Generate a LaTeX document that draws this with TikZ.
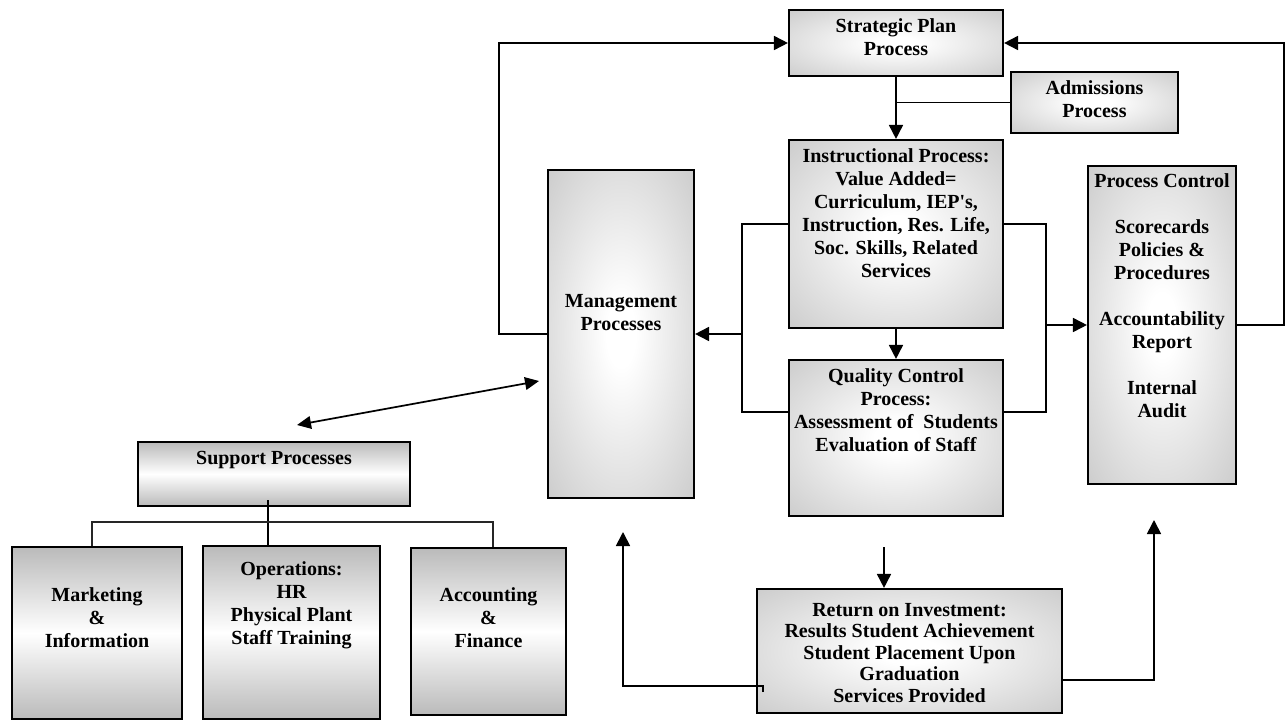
\documentclass[tikz,border=0pt]{standalone}
\usepackage{fontspec}
\setmainfont{Liberation Serif}
\usetikzlibrary{arrows.meta,fit,calc}
\pgfdeclareradialshading{glow}{\pgfpoint{0bp}{0bp}}{color(0bp)=(white); color(5bp)=(white); color(42bp)=(black!24); color(50bp)=(black!26); color(75bp)=(black!26)}
\begin{document}
\begin{tikzpicture}[x=0.75pt,y=-0.75pt,
  font=\fontsize{15pt}{17.25pt}\selectfont\bfseries,
  box/.style={draw=black, line width=1.6pt, inner sep=0pt, shade, shading=glow},
  sbox/.style={draw=black, line width=1.6pt, inner sep=0pt, top color=black!27, bottom color=black!27, middle color=white},
  txt/.style={align=center, inner sep=0pt, anchor=north},
  ln/.style={line width=1.3pt},
  barln/.style={line width=1pt, black!85},
  arr/.style={ln, -{Triangle[length=10.5pt,width=10.5pt]}},
  darr/.style={ln, {Triangle[length=10.5pt,width=9.5pt]}-{Triangle[length=10.5pt,width=9.5pt]}}]
\path[fill=white] (0,0) rectangle (1286,721);
\useasboundingbox (0,0) rectangle (1286,721);

% main boxes
\node[box, fit={(789,10)(1003,76)}] (sp) {};
\node[txt] (spt) at (896,18) {Strategic Plan\\Process};
\node[box, fit={(1011,72)(1178,133)}] (adm) {};
\node[txt] (admt) at (1094.5,80) {Admissions\\Process};
\node[box, fit={(789,140)(1003,328)}] (ins) {};
\node[txt] (inst) at (896,148) {Instructional Process:\\Value Added=\\Curriculum, IEP\textquotesingle s,\\Instruction, Res. Life,\\Soc. Skills, Related\\Services};
\node[box, fit={(548,170)(694,498)}] (mgt) {};
\node[txt] (mgtt) at (621,294) {Management\\Processes};
\node[box, fit={(789,360)(1003,516)}] (qc) {};
\node[txt] (qct) at (896,368) {Quality Control\\Process:\\Assessment of~ Students\\Evaluation of Staff};
\node[box, fit={(1088,166)(1236,484)}] (pc) {};
\node[txt] (pct) at (1162,173) {Process Control\\[17.25pt]Scorecards\\Policies \&\\Procedures\\[17.25pt]Accountability\\Report\\[17.25pt]Internal\\Audit};
\node[box, fit={(757,589)(1062,713)}] (roi) {};
\node[txt, font=\fontsize{15pt}{16.1pt}\selectfont\bfseries] (roit) at (909.5,603) {Return on Investment:\\Results Student Achievement\\Student Placement Upon\\Graduation\\Services Provided};

% support group
\node[sbox, fit={(138,442)(410,506)}] (sup) {};
\node[txt] (supt) at (274,451) {Support Processes};
\node[sbox, fit={(12,547)(182,719)}] (mkt) {};
\node[txt] (mktt) at (97,587) {Marketing\\\&\\Information};
\node[sbox, fit={(203,546)(380,719)}] (ops) {};
\node[txt] (opst) at (291.5,561) {Operations:\\HR\\Physical Plant\\Staff Training};
\node[sbox, fit={(411,548)(566,715)}] (acc) {};
\node[txt] (acct) at (488.5,587) {Accounting\\\&\\Finance};

% helper coordinates
\coordinate (lx) at (499,0);
\coordinate (rx) at (1284,0);
\coordinate (yA) at (0,224);
\coordinate (yB) at (0,412);
\coordinate (bl) at (742,0);
\coordinate (br) at (1046,0);
\coordinate (da1) at (297,425);
\coordinate (da2) at (539,381);
\coordinate (st) at (268,500);
\coordinate (b1) at (92,522);
\coordinate (b2) at (493,522);
\coordinate (ri) at (884,547);
\coordinate (lt) at (763,692);
\coordinate (rl) at (763,686);
\coordinate (ua) at (623,532);
\coordinate (y680) at (0,680);
\coordinate (ua2) at (1154,520);

% loops to strategic plan
\draw[arr] (mgt.west) -- (mgt.west -| lx) |- (sp.west);
\draw[arr] (pc.east) -- (pc.east -| rx) |- (sp.east);
% strategic -> instructional, admissions branch
\draw[arr] (sp.south) -- (ins.north);
\draw[ln] (adm.west) -- (adm.west -| sp.south);
% instructional -> quality control
\draw[arr] (ins.south) -- (qc.north);
% left bracket
\draw[ln] (ins.west |- yA) -- (bl |- yA) -- (bl |- yB) -- (qc.west |- yB);
\draw[arr] (bl |- mgt.east) -- (mgt.east);
% right bracket
\draw[ln] (ins.east |- yA) -- (br |- yA) -- (br |- yB) -- (qc.east |- yB);
\draw[arr] (br |- pc.west) -- (pc.west);
% support <-> management
\draw[darr] (da1) -- (da2);
% support tree
\draw[ln] (st) -- (st |- ops.north);
\draw[barln] (b1 |- mkt.north) -- (b1) -- (b2) -- (b2 |- acc.north);
% return on investment
\draw[arr] (ri) -- (ri |- roi.north);
\draw[arr] (lt) -- (rl) -- (rl -| ua) -- (ua);
\draw[arr] (roi.east |- y680) -- (y680 -| ua2) -- (ua2);
\end{tikzpicture}
\end{document}
